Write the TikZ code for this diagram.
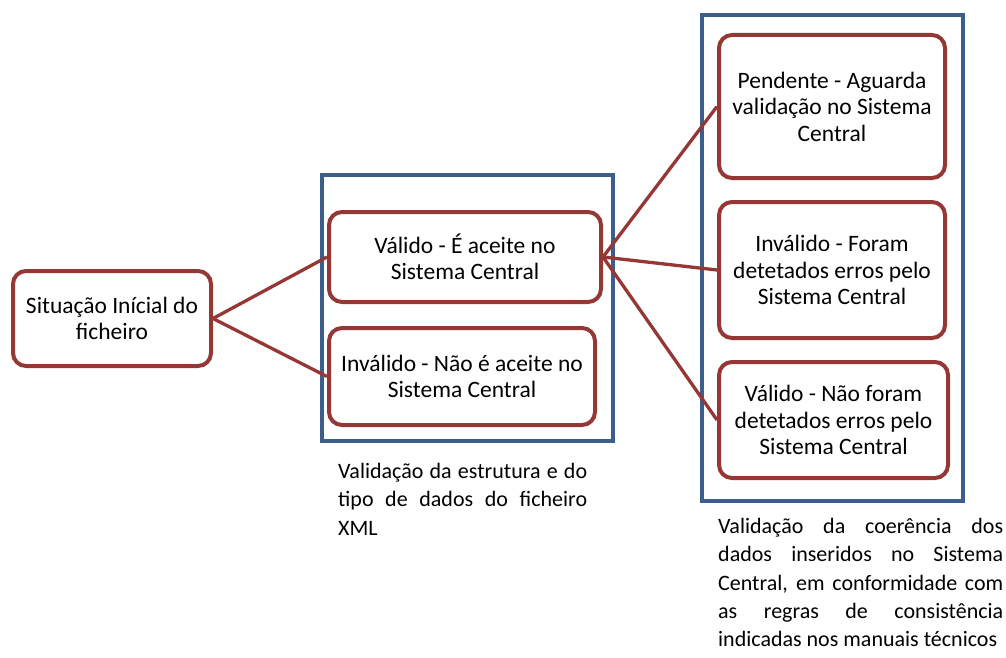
\documentclass[tikz,border=0pt]{standalone}
\usepackage{fontspec}
\setmainfont{Carlito}
\definecolor{boxred}{HTML}{953735}
\definecolor{boxblue}{HTML}{3B5E8C}
\begin{document}
\begin{tikzpicture}[x=1pt,y=-1pt,
  item/.style={draw=boxred, line width=4pt, rounded corners=13pt, fill=white,
    align=center, inner sep=0pt, font=\fontsize{23.5}{26.5}\selectfont},
  group/.style={draw=boxblue, line width=3.8pt, inner sep=0pt},
  link/.style={draw=boxred, line width=3.3pt},
  note/.style={align=justify, inner sep=0pt, anchor=north west,
    font=\fontsize{22}{28.3}\selectfont}]
\useasboundingbox (0,0) rectangle (1006,658);
% groups
\node[group, minimum width=291pt, minimum height=266pt] (g1) at (467.5,308) {};
\node[group, minimum width=261pt, minimum height=486pt] (g2) at (832.5,258) {};
% items
\node[item, minimum width=198pt, minimum height=95pt] (sit) at (112,318.5)
  {Situação Inícial do\\ficheiro};
\node[item, minimum width=272pt, minimum height=90pt] (v1) at (465,257)
  {Válido - É aceite no\\Sistema Central};
\node[item, minimum width=266pt, minimum height=97pt] (i1) at (462,376.5)
  {Inválido - Não é aceite no\\Sistema Central};
\node[item, minimum width=226pt, minimum height=143pt] (p2) at (832,106.5)
  {Pendente - Aguarda\\validação no Sistema\\Central};
\node[item, minimum width=226pt, minimum height=136pt] (i2) at (832,270)
  {Inválido - Foram\\detetados erros pelo\\Sistema Central};
\node[item, minimum width=229pt, minimum height=116pt] (v2) at (833.5,420)
  {Válido - Não foram\\detetados erros pelo\\Sistema Central};
% connectors
\draw[link] (sit.east) -- (v1.west);
\draw[link] (sit.east) -- (i1.west);
\draw[link] (v1.east) -- (p2.west);
\draw[link] (v1.east) -- (i2.west);
\draw[link] (v1.east) -- (v2.west);
% captions
\node[note, text width=249pt] (c1) at (338,463)
  {Validação da estrutura e do\linebreak tipo de dados do ficheiro\linebreak XML};
\node[note, text width=285pt] (c2) at (718,518)
  {Validação da coerência dos\linebreak dados inseridos no Sistema\linebreak Central, em conformidade com\linebreak as regras de consistência\linebreak indicadas nos manuais técnicos};
\end{tikzpicture}
\end{document}
